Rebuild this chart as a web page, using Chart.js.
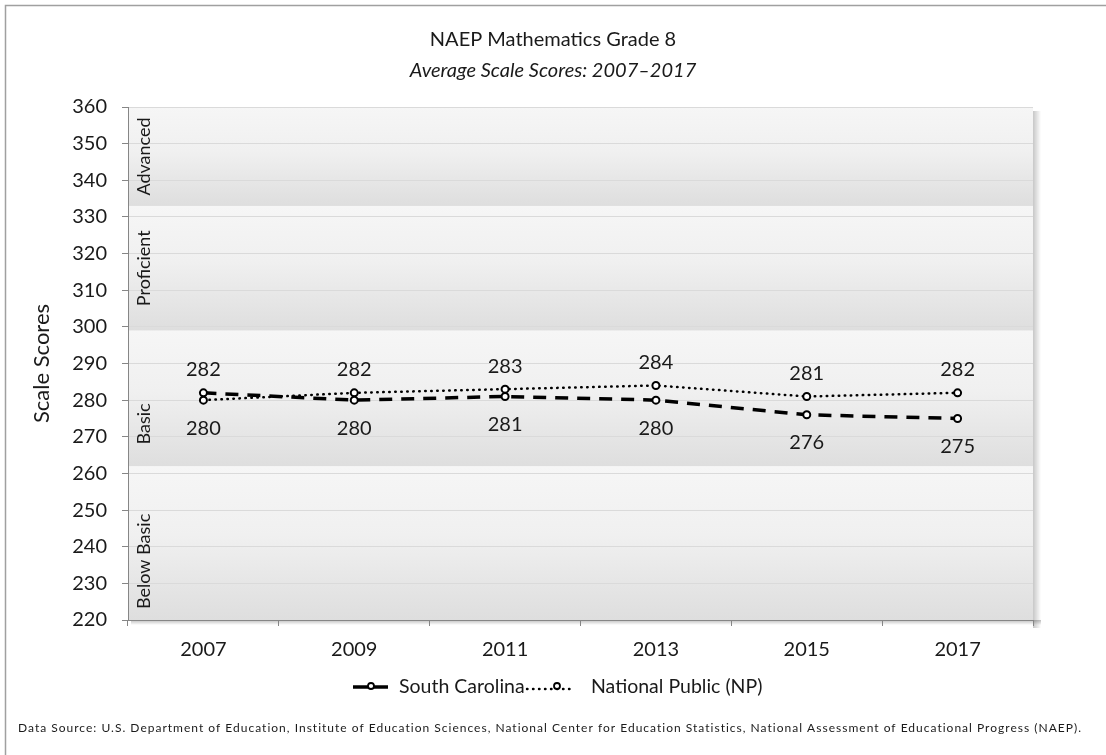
<!DOCTYPE html>
<html>
<head>
<meta charset="utf-8">
<script src="https://cdn.jsdelivr.net/npm/chart.js@4.4.1/dist/chart.umd.min.js"></script>
<style>
html,body{margin:0;padding:0;background:#fff;}
#wrap{width:1106px;height:755px;position:relative;}
</style>
</head>
<body>
<div id="wrap"><canvas id="naepChart" width="1106" height="755"></canvas></div>
<script>
// data
const years=["2007","2009","2011","2013","2015","2017"];
const southCarolina=[282,280,281,280,276,275];
const nationalPublic=[280,282,283,284,281,282];
const yMin=220, yMax=360, yStep=10;
const bandNames=["Below Basic","Basic","Proficient","Advanced"];
const bandCuts=[220,262,299,333,360];
const seriesNames=["South Carolina","National Public (NP)"];
const chartTitle="NAEP Mathematics Grade 8";
const chartSubtitle="Average Scale Scores: 2007–2017";
const sourceNote="Data Source: U.S. Department of Education, Institute of Education Sciences, National Center for Education Statistics, National Assessment of Educational Progress (NAEP).";

const FONT="Lato, 'Open Sans', sans-serif";
const TXT="#1a1a1a";
const AXIS="#868686";

// where each band name sits (in score units), as placed in the original
const bandLabelAt=[236,273.5,316,346.5];

const bandsPlugin={
  id:'bands',
  beforeDraw(chart){
    const {ctx,chartArea:a,scales:{y}}=chart;
    ctx.save();
    // outer frame (only top/left visible in the crop)
    ctx.strokeStyle="#a0a0a0";ctx.lineWidth=1.5;
    ctx.beginPath();ctx.moveTo(5.5,755);ctx.lineTo(5.5,5.5);ctx.lineTo(1106,5.5);ctx.stroke();
    // shadow on right and bottom of plot area
    let g=ctx.createLinearGradient(a.right,0,a.right+8,0);
    g.addColorStop(0,'rgba(0,0,0,0.22)');g.addColorStop(1,'rgba(0,0,0,0)');
    ctx.fillStyle=g;ctx.fillRect(a.right,a.top+4,8,a.bottom-a.top+4);
    g=ctx.createLinearGradient(0,a.bottom,0,a.bottom+5);
    g.addColorStop(0,'rgba(0,0,0,0.25)');g.addColorStop(1,'rgba(0,0,0,0)');
    ctx.fillStyle=g;ctx.fillRect(a.left+3,a.bottom,a.right-a.left+5,5);
    for(let i=0;i<bandNames.length;i++){
      const top=y.getPixelForValue(bandCuts[i+1]);
      const bot=y.getPixelForValue(bandCuts[i]);
      const gr=ctx.createLinearGradient(0,top,0,bot);
      gr.addColorStop(0,'#f6f6f6');
      gr.addColorStop(0.45,'#f0f0f0');
      gr.addColorStop(1,'#dedede');
      ctx.fillStyle=gr;
      ctx.fillRect(a.left,top,a.right-a.left,bot-top);
    }
    // titles
    ctx.fillStyle=TXT;ctx.textAlign='center';ctx.textBaseline='middle';
    ctx.font="20px "+FONT;
    ctx.fillText(chartTitle,553,40);
    ctx.font="italic 20px "+FONT;
    ctx.fillText(chartSubtitle,553,71);
    ctx.restore();
  },
  afterDatasetsDraw(chart){
    const {ctx,chartArea:a,scales:{y}}=chart;
    ctx.save();
    ctx.fillStyle=TXT;
    ctx.font="18px "+FONT;
    ctx.textAlign='center';ctx.textBaseline='middle';
    bandNames.forEach((name,i)=>{
      ctx.save();
      ctx.translate(a.left+15,y.getPixelForValue(bandLabelAt[i]));
      ctx.rotate(-Math.PI/2);
      ctx.fillText(name,0,1);
      ctx.restore();
    });
    // value labels: higher series above its point, lower one below
    ctx.font="20px "+FONT;
    const sets=chart.data.datasets;
    sets.forEach((ds,di)=>{
      const other=sets[1-di].data;
      chart.getDatasetMeta(di).data.forEach((pt,k)=>{
        const above=ds.data[k]>=other[k];
        ctx.fillText(String(ds.data[k]),pt.x,pt.y+(above?-23:28));
      });
    });
    ctx.restore();
  },
  afterDraw(chart){
    const {ctx}=chart;
    ctx.save();
    const ly=687;
    // legend sample: South Carolina
    ctx.strokeStyle='#000';ctx.lineWidth=3.5;ctx.lineCap='butt';
    ctx.beginPath();ctx.moveTo(353,ly);ctx.lineTo(388,ly);ctx.stroke();
    ctx.fillStyle='#fff';ctx.lineWidth=1.8;
    ctx.beginPath();ctx.arc(371,ly-1,3,0,Math.PI*2);ctx.fill();ctx.stroke();
    // legend sample: National Public
    ctx.lineWidth=2.4;ctx.lineCap='round';ctx.setLineDash([0.5,5.5]);
    ctx.beginPath();ctx.moveTo(527,ly+2);ctx.lineTo(575,ly+2);ctx.stroke();
    ctx.setLineDash([]);ctx.lineWidth=1.8;
    ctx.beginPath();ctx.arc(557,ly-1,3,0,Math.PI*2);ctx.fill();ctx.stroke();
    ctx.fillStyle=TXT;ctx.font="19.5px "+FONT;ctx.textAlign='left';ctx.textBaseline='middle';
    ctx.fillText(seriesNames[0],399,ly);
    ctx.fillText(seriesNames[1],591,ly);
    // source note, spread to the same width as the original
    ctx.font="12px "+FONT;
    const w=ctx.measureText(sourceNote).width;
    ctx.letterSpacing=((1065-w)/(sourceNote.length-1)).toFixed(2)+"px";
    ctx.fillText(sourceNote,18,728);
    ctx.restore();
  }
};

new Chart(document.getElementById('naepChart'),{
  type:'line',
  data:{
    labels:years,
    datasets:[
      {label:seriesNames[0],data:southCarolina,borderColor:'#000',borderWidth:3.5,borderDash:[13,9],
       pointRadius:3.5,pointBorderWidth:2,pointBackgroundColor:'#fff',pointBorderColor:'#000',tension:0},
      {label:seriesNames[1],data:nationalPublic,borderColor:'#000',borderWidth:2.5,borderDash:[0.5,5.5],borderCapStyle:'round',
       pointRadius:3.5,pointBorderWidth:2,pointBackgroundColor:'#fff',pointBorderColor:'#000',tension:0}
    ]
  },
  options:{
    responsive:false,
    animation:false,
    layout:{padding:{left:0,right:73,top:107,bottom:0}},
    plugins:{
      legend:{display:false},
      tooltip:{enabled:false}
    },
    scales:{
      x:{
        offset:true,
        grid:{drawOnChartArea:false,offset:true,tickLength:6,tickColor:AXIS},
        border:{color:AXIS,width:1},
        ticks:{color:TXT,font:{family:FONT,size:20},padding:12,maxRotation:0},
        afterFit(s){s.height=135;}
      },
      y:{
        min:yMin,max:yMax,
        grid:{color:'#dadada',tickLength:6,tickColor:AXIS},
        border:{color:AXIS,width:1},
        ticks:{stepSize:yStep,color:TXT,font:{family:FONT,size:20},padding:15},
        title:{display:true,text:'Scale Scores',color:TXT,font:{family:FONT,size:22},padding:{top:29,bottom:0}},
        afterFit(s){s.width=128;}
      }
    }
  },
  plugins:[bandsPlugin]
});
</script>
</body>
</html>
